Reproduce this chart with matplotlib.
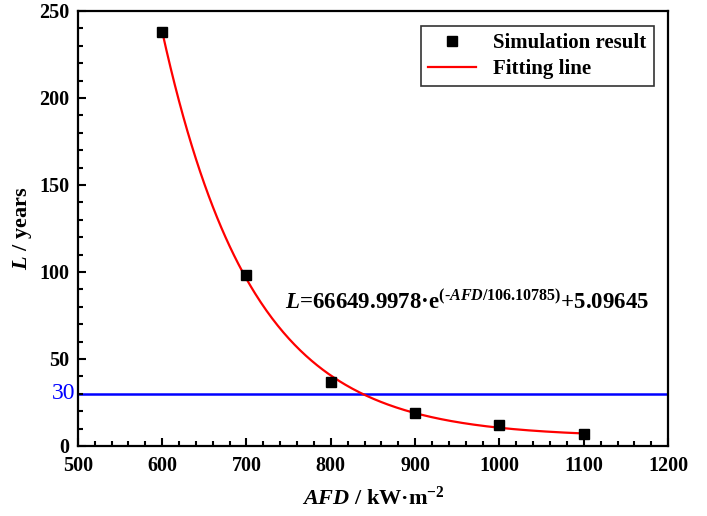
import numpy as np
import matplotlib.pyplot as plt
from matplotlib.ticker import MultipleLocator
import matplotlib.transforms as mtransforms

plt.rcParams['font.family'] = 'Liberation Serif'
plt.rcParams['font.weight'] = 'bold'
plt.rcParams['axes.labelweight'] = 'bold'
plt.rcParams['mathtext.fontset'] = 'custom'
plt.rcParams['mathtext.rm'] = 'Liberation Serif:bold'
plt.rcParams['mathtext.it'] = 'Liberation Serif:bold:italic'
plt.rcParams['mathtext.bf'] = 'Liberation Serif:bold'

# simulated lifetime vs. AFD
afd = [600, 700, 800, 900, 1000, 1100]
life = [238, 98, 37, 19, 12, 7]

# exponential fit coefficients
A, t0, y0 = 66649.9978, 106.10785, 5.09645
limit = 30

fig = plt.figure(figsize=(7.07, 5.16), dpi=100)
ax = fig.add_axes([0.110, 0.1357, 0.835, 0.843])

xf = np.linspace(afd[0], afd[-1], 300)
ax.plot(xf, A * np.exp(-xf / t0) + y0, color='red', lw=1.6, label='Fitting line', zorder=2)
ax.plot(afd, life, 's', color='black', ms=7, label='Simulation result', zorder=3)
ax.axhline(limit, color='blue', lw=1.8, zorder=1)

ax.set_xlim(500, 1200)
ax.set_ylim(0, 250)
ax.xaxis.set_major_locator(MultipleLocator(100))
ax.xaxis.set_minor_locator(MultipleLocator(20))
ax.yaxis.set_major_locator(MultipleLocator(50))
ax.yaxis.set_minor_locator(MultipleLocator(10))
ax.tick_params(which='both', direction='in', top=False, right=False, width=1.5, labelsize=14.5)
ax.tick_params(which='major', length=6)
ax.tick_params(which='minor', length=3.5)
ax.tick_params(axis='x', pad=7)
ax.tick_params(axis='y', pad=6)
for s in ax.spines.values():
    s.set_linewidth(1.6)

trans = mtransforms.blended_transform_factory(ax.transAxes, ax.transData)
ax.text(-0.004, limit, str(limit), color='blue', fontsize=17, fontweight='normal',
        ha='right', va='center', transform=trans)

ax.set_xlabel(r'$\mathit{AFD}$ / kW·m$^{-2}$', fontsize=16, fontweight='bold', labelpad=8)
ax.set_ylabel(r'$\mathit{L}$ / years', fontsize=16, fontweight='bold', labelpad=4)

ax.text(0.66, 0.33,
        r'$\mathit{L}$=66649.9978·e$^{(\mathit{\text{-}AFD}/106.10785)}$+5.09645',
        fontsize=16.5, ha='center', va='center', transform=ax.transAxes)

h, l = ax.get_legend_handles_labels()
leg = ax.legend(h[::-1], l[::-1], loc='upper right', fontsize=15, frameon=True,
                fancybox=False, edgecolor='black', borderaxespad=0.7,
                handlelength=2.3, borderpad=0.35, labelspacing=0.3)
leg.get_frame().set_linewidth(1.2)

fig.savefig('out.png', dpi=100)
